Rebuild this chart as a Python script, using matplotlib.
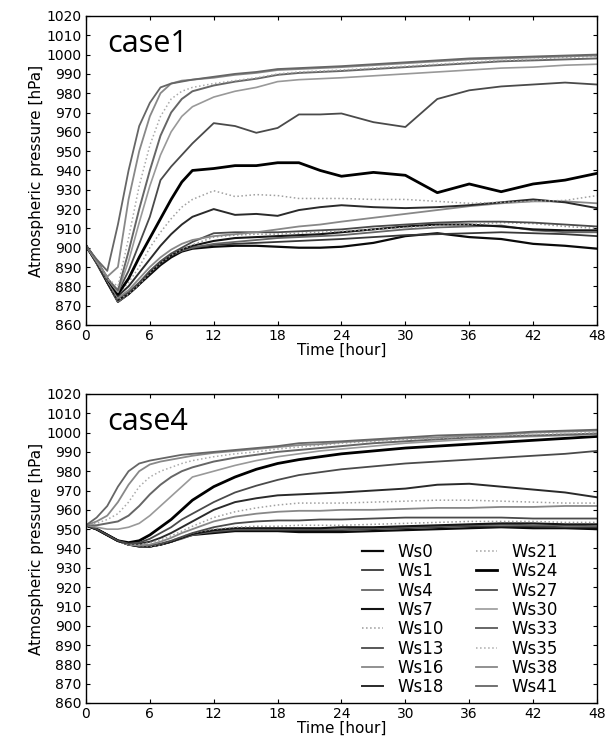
import matplotlib
matplotlib.use('Agg')
import matplotlib.pyplot as plt

# time axis [hour]
hours = [0, 1, 2, 3, 4, 5, 6, 7, 8, 9, 10, 12, 14, 16, 18, 20, 22, 24, 27, 30, 33, 36, 39, 42, 45, 48]

names = ['Ws0', 'Ws1', 'Ws4', 'Ws7', 'Ws10', 'Ws13', 'Ws16', 'Ws18',
         'Ws21', 'Ws24', 'Ws27', 'Ws30', 'Ws33', 'Ws35', 'Ws38', 'Ws41']

# case1 pressure [hPa]
case1_ws0 = [901, 892, 882, 872, 876, 881, 886, 891, 895, 898, 899.5, 900.5, 901, 901, 900.5, 900, 900, 900.5, 902.5, 906, 907.5, 905.5, 904.5, 902, 901, 899.5]
case1_ws1 = [901, 892, 882, 872, 876, 881, 887, 892, 896, 898.5, 900, 901.5, 902, 902.5, 903, 903.5, 904, 904.5, 905.5, 906.5, 907, 907.5, 908, 907.5, 907, 906]
case1_ws4 = [901, 892, 882, 872, 876, 881, 887, 892, 896, 898.5, 900, 902, 903, 904, 905, 905.5, 906, 906.5, 908, 909.5, 910.5, 911, 911.5, 909, 908, 908]
case1_ws7 = [901, 893, 882, 873, 876, 881, 887, 892, 896, 899, 901, 903.5, 905, 905.5, 906, 906.5, 907, 908, 909.5, 911, 912, 912, 911, 909.5, 909, 909]
case1_ws10 = [901, 893, 883, 873, 876, 881, 887, 892, 896, 899, 901.5, 905.5, 906.5, 907, 907, 907.5, 908, 908.5, 909.5, 910.5, 911.5, 912, 913, 912.5, 911, 910]
case1_ws13 = [901, 893, 883, 874, 877, 882, 888, 893, 897, 900, 903, 907.5, 908, 908, 908, 908.5, 909, 909.5, 911, 912, 913, 913.5, 913.5, 913, 912, 911]
case1_ws16 = [901, 893, 883, 874, 878, 884, 890, 895, 899, 902, 904, 906, 907, 908, 909.5, 911, 912, 913.5, 915.5, 917.5, 919.5, 921.5, 923, 924, 924, 923]
case1_ws18 = [901, 893, 884, 875, 880, 887, 894, 901, 907, 912, 916, 920, 917, 917.5, 916.5, 919.5, 921, 922, 921, 920.5, 921, 922, 923.5, 925, 923.5, 920.5]
case1_ws21 = [901, 893, 884, 876, 882, 890, 900, 908, 915, 921, 925, 929.5, 926.5, 927.5, 927, 925.5, 925.5, 925.5, 925, 925, 924, 923, 923.5, 924, 924.5, 927]
case1_ws24 = [901, 893, 884, 876, 884, 895, 905, 915, 925, 934, 940, 941, 942.5, 942.5, 944, 944, 940, 937, 939, 937.5, 928.5, 933, 929, 933, 935, 938.5]
case1_ws27 = [901, 893, 884, 877, 888, 902, 916, 935, 942, 948, 954, 964.5, 963, 959.5, 962, 969, 969, 969.5, 965, 962.5, 977, 981.5, 983.5, 984.5, 985.5, 984.5]
case1_ws30 = [901, 893, 884, 877, 893, 913, 932, 948, 960, 968, 973, 978, 981, 983, 986, 987, 987.5, 988, 989, 990, 991, 992, 993, 993.5, 994.5, 995]
case1_ws33 = [901, 893, 884, 878, 898, 920, 940, 958, 970, 977, 981, 984, 986, 987.5, 989.5, 990.5, 991, 991.5, 992.5, 993.5, 994.5, 995.5, 996.5, 997, 997.5, 998]
case1_ws35 = [901, 893, 884, 880, 905, 932, 953, 968, 977, 981, 983, 985, 986.5, 988, 990, 991, 991.5, 992, 993, 994, 995, 996, 997, 997.5, 998.5, 999]
case1_ws38 = [901, 893, 885, 890, 925, 950, 968, 980, 985, 986.5, 987, 988, 989.5, 990.5, 992, 992.5, 993, 993.5, 994.5, 995.5, 996.5, 997.5, 998, 998.5, 999, 999.5]
case1_ws41 = [901, 894, 888, 912, 940, 963, 975, 983, 985, 986, 987, 988.5, 990, 991, 992.5, 993, 993.5, 994, 995, 996, 997, 998, 998.5, 999, 999.5, 1000]

# case4 pressure [hPa]
case4_ws0 = [952, 950, 947, 944, 942, 941.5, 941, 942, 943.5, 945.5, 947, 948, 949, 949, 949, 948.5, 948.5, 948.5, 949, 949.5, 950, 950.5, 951, 950.5, 950.5, 950]
case4_ws1 = [952, 950, 947, 944, 942, 941, 941, 942, 943.5, 945.5, 947.5, 948.5, 949.5, 949.5, 949.5, 949.5, 949.5, 949.5, 950, 950.5, 951, 951.5, 951.5, 951.5, 951, 951]
case4_ws4 = [952, 950, 947, 944, 942, 941, 941, 942, 943.5, 945, 947, 949, 950, 950, 950, 950, 950, 950, 950.5, 951, 951.5, 952, 952.5, 952, 952, 951.5]
case4_ws7 = [952, 950, 947, 944, 942, 941, 941, 942, 943.5, 945.5, 947.5, 949.5, 950.5, 950.5, 950.5, 950.5, 950.5, 951, 951, 951.5, 952, 952.5, 953, 953, 952.5, 952.5]
case4_ws10 = [952, 950, 947, 944, 942, 941.5, 941, 942, 944, 946, 948, 950, 951, 951.5, 951.5, 952, 952, 952, 952.5, 953, 953.5, 954, 954, 954, 953.5, 953.5]
case4_ws13 = [952, 950, 947, 944, 942, 941.5, 941.5, 942.5, 944, 946, 948, 951, 953, 954, 954.5, 954.5, 955, 955, 955.5, 956, 956, 956, 956, 955.5, 955.5, 955.5]
case4_ws16 = [952, 950, 947, 944, 942, 941.5, 942, 943.5, 945.5, 948, 950, 954, 956.5, 958, 959, 959.5, 959.5, 960, 960, 960.5, 961, 961, 961.5, 961.5, 962, 962]
case4_ws18 = [952, 950, 947, 944, 942.5, 942.5, 943.5, 945.5, 948, 951, 954, 960, 964, 966, 967.5, 968, 968.5, 969, 970, 971, 973, 973.5, 972, 970.5, 969, 966.5]
case4_ws21 = [952, 950, 947, 944, 942, 942, 943, 944.5, 946.5, 949, 951.5, 956, 959, 961, 962.5, 963.5, 963.5, 963.5, 964, 964.5, 965, 965, 964.5, 964, 963.5, 963.5]
case4_ws24 = [952, 950, 947, 944, 943, 944, 947, 951, 955, 960, 965, 972, 977, 981, 984, 986, 987.5, 989, 990.5, 992, 993, 994, 995, 996, 997, 998]
case4_ws27 = [952, 950, 947, 944, 942.5, 943, 945, 948, 951, 955, 958, 964, 969, 972.5, 975.5, 978, 979.5, 981, 982.5, 984, 985, 986, 987, 988, 989, 990.5]
case4_ws30 = [952, 951, 950, 950, 951, 953, 957, 962, 967, 972, 977, 980, 983, 985.5, 987.5, 989, 990.5, 991.5, 993, 994.5, 995.5, 996.5, 997.5, 998, 998.5, 999]
case4_ws33 = [952, 952, 953, 954, 957, 962, 968, 973, 977, 980, 982, 985, 987, 988.5, 990, 991, 992, 993, 994.5, 995.5, 996.5, 997.5, 998, 998.5, 999, 999.5]
case4_ws35 = [952, 953, 955, 958, 964, 972, 977, 980, 982, 984, 985.5, 987.5, 989, 990, 991.5, 992.5, 993.5, 994.5, 995.5, 996.5, 997, 998, 998.5, 999, 999.5, 1000]
case4_ws38 = [952, 954, 957, 964, 973, 980, 983.5, 985, 986, 987, 988, 989.5, 990.5, 991.5, 992.5, 993.5, 994, 995, 996, 997, 997.5, 998.5, 999, 1000, 1000.5, 1001]
case4_ws41 = [952, 956, 962, 972, 980, 984, 985.5, 986.5, 987.5, 988.5, 989, 990, 991, 992, 993, 994.5, 995, 995.5, 996.5, 997.5, 998.5, 999, 999.5, 1000.5, 1001, 1001.5]

case1 = [case1_ws0, case1_ws1, case1_ws4, case1_ws7, case1_ws10, case1_ws13, case1_ws16, case1_ws18,
         case1_ws21, case1_ws24, case1_ws27, case1_ws30, case1_ws33, case1_ws35, case1_ws38, case1_ws41]
case4 = [case4_ws0, case4_ws1, case4_ws4, case4_ws7, case4_ws10, case4_ws13, case4_ws16, case4_ws18,
         case4_ws21, case4_ws24, case4_ws27, case4_ws30, case4_ws33, case4_ws35, case4_ws38, case4_ws41]

# grey shades / widths used for each run
colors = ['#0a0a0a', '#383838', '#666666', '#141414', '#999999', '#4a4a4a', '#888888', '#2a2a2a',
          '#a0a0a0', '#000000', '#4a4a4a', '#999999', '#666666', '#aaaaaa', '#888888', '#666666']
widths = [1.6, 1.3, 1.3, 1.5, 1.1, 1.3, 1.3, 1.4, 1.1, 2.0, 1.3, 1.2, 1.4, 1.1, 1.3, 1.3]
styles = ['-', '-', '-', '-', ':', '-', '-', '-', ':', '-', '-', '-', '-', ':', '-', '-']

plt.rcParams['font.family'] = ['DejaVu Sans']

fig = plt.figure(figsize=(6.08, 7.45), dpi=100)
ax1 = fig.add_axes([0.1414, 0.5638, 0.8405, 0.4148])
ax2 = fig.add_axes([0.1414, 0.0564, 0.8405, 0.4148])

for ax, data, title in [(ax1, case1, 'case1'), (ax2, case4, 'case4')]:
    for i in range(len(names)):
        ax.plot(hours, data[i], color=colors[i], lw=widths[i], ls=styles[i], label=names[i])
    ax.set_xlim(0, 48)
    ax.set_ylim(860, 1020)
    ax.set_xticks(range(0, 49, 6))
    ax.set_yticks(range(860, 1021, 10))
    ax.tick_params(direction='in', length=3, top=True, right=True, labelsize=10, pad=3)
    ax.set_xlabel('Time [hour]', fontsize=11, labelpad=0)
    ax.set_ylabel('Atmospheric pressure [hPa]', fontsize=11, labelpad=2)
    ax.text(0.041, 0.883, title, transform=ax.transAxes, fontsize=22,
            family='Open Sans', va='baseline', ha='left')
    for s in ax.spines.values():
        s.set_linewidth(1.0)

ax2.legend(ncol=2, frameon=False, fontsize=12, loc='lower right',
           bbox_to_anchor=(0.94, -0.005), labelspacing=0.08, handlelength=1.3,
           handletextpad=0.85, columnspacing=1.9, borderpad=0.0)

plt.savefig('out.png', dpi=100)
